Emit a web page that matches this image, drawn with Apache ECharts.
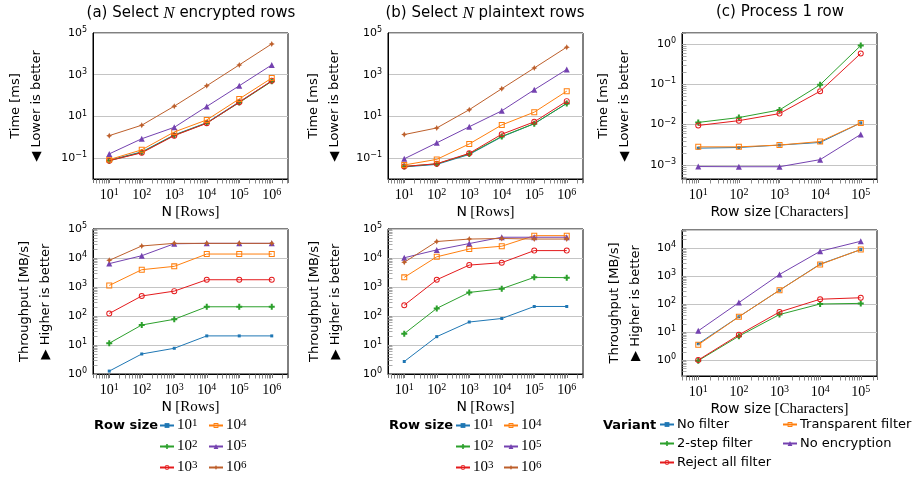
<!DOCTYPE html>
<html>
<head>
<meta charset="utf-8">
<script src="https://cdn.jsdelivr.net/npm/echarts@6/dist/echarts.min.js"></script>
<style>html,body{margin:0;padding:0;background:#fff}#main{width:918px;height:483px}</style>
</head>
<body>
<div id="main"></div>
<script>
// x values
var rowsN = [10, 100, 1e3, 1e4, 1e5, 1e6];
var rowSizes = [10, 100, 1e3, 1e4, 1e5];
var sizeNames = ['10^1', '10^2', '10^3', '10^4', '10^5', '10^6'];
var variantNames = ['No filter', '2-step filter', 'Reject all filter', 'Transparent filter', 'No encryption'];

// (a) time [ms], one array per row size
var encTime = [
  [0.08, 0.2, 1.3, 5.0, 50, 500],
  [0.075, 0.19, 1.25, 4.8, 46, 480],
  [0.076, 0.18, 1.2, 4.7, 48, 510],
  [0.085, 0.25, 1.8, 6.8, 69, 690],
  [0.16, 0.85, 3.0, 30, 295, 2950],
  [1.2, 3.8, 31, 295, 2950, 30000]
];
// (b) time [ms]
var plainTime = [
  [0.038, 0.05, 0.15, 1.05, 4.5, 42],
  [0.04, 0.053, 0.16, 1.1, 4.5, 42],
  [0.04, 0.054, 0.17, 1.4, 5.5, 54],
  [0.047, 0.087, 0.48, 3.9, 16, 163],
  [0.093, 0.54, 3.2, 18.5, 190, 1800],
  [1.35, 2.8, 21, 213, 2100, 21000]
];
// (a) throughput [MB/s]
var encTput = [
  [1.26, 4.9, 7.7, 20.6, 20.6, 20.6],
  [11.5, 49, 77, 208, 208, 208],
  [122, 490, 720, 1780, 1780, 1780],
  [1130, 3950, 5150, 13700, 13700, 13700],
  [6400, 12000, 31000, 32000, 32000, 32000],
  [8300, 26000, 32000, 32000, 32000, 32000]
];
// (b) throughput [MB/s]
var plainTput = [
  [2.7, 19.4, 62, 82, 213, 213],
  [24.5, 183, 650, 870, 2150, 2100],
  [236, 1780, 5700, 6900, 18000, 18000],
  [2150, 11000, 20500, 25500, 59000, 59000],
  [10200, 19000, 31500, 52000, 52000, 52000],
  [7100, 37000, 45000, 47000, 45000, 45000]
];
// (c) time [ms], one array per variant
var rowTime = [
  [0.0026, 0.0027, 0.0031, 0.0036, 0.011],
  [0.0113, 0.0149, 0.023, 0.097, 0.91],
  [0.0095, 0.0125, 0.0187, 0.067, 0.58],
  [0.0028, 0.0028, 0.0031, 0.0038, 0.011],
  [0.00091, 0.0009, 0.0009, 0.00135, 0.0057]
];
// (c) throughput [MB/s]
var rowTput = [
  [3.8, 35, 310, 2650, 8700],
  [0.95, 7.1, 42, 100, 105],
  [1.0, 7.9, 52, 148, 167],
  [3.5, 35, 310, 2570, 8800],
  [11, 112, 1130, 7600, 17300]
];

var SANS = 'DejaVu Sans', SERIF = 'Liberation Serif';
var colors = ['#1f77b4', '#2ca02c', '#e41a1c', '#ff7f0e', '#7442b0', '#bd5f2b'];
// open marks are drawn as thin rings so the outline stays 1px
var symbols = [
  ['rect', 3],
  ['path://M2,0h2v2h2v2h-2v2h-2v-2h-2v-2h2z', 6],
  ['path://M5,0A5,5 0 1,1 4.99,0ZM5,1.6A3.4,3.4 0 1,0 5.01,1.6Z', 6],
  ['path://M0,0H10V10H0ZM1.7,1.7V8.3H8.3V1.7Z', 6],
  ['triangle', 6],
  ['path://M3,0L4,2L6,3L4,4L3,6L2,4L0,3L2,2Z', 6]
];

// axis ranges as exponents [lo, hi]
var xRange = [[0.5, 6.5], [0.5, 6.5], [0.6, 5.4], [0.5, 6.5], [0.5, 6.5], [0.6, 5.4]];
var yRange = [[-2, 5], [-2, 5], [-3.35, 0.27], [0, 5], [0, 5], [-0.57, 4.64]];

var grids = [
  {left: 93, top: 33, width: 195, height: 146},
  {left: 388, top: 33, width: 195, height: 146},
  {left: 682, top: 33, width: 195, height: 146},
  {left: 93, top: 229, width: 195, height: 145},
  {left: 388, top: 229, width: 195, height: 145},
  {left: 682, top: 230, width: 195, height: 146}
];
grids.forEach(function (g) { g.show = true; g.borderColor = '#000'; g.borderWidth = 1; });

function exp10(v) {
  var e = Math.log10(v), r = Math.round(e);
  return Math.abs(e - r) > 1e-6 ? null : r;
}
function supText(r) { return (r < 0 ? '\u2212' : '') + Math.abs(r); }

function xAxis(gi, name) {
  return {
    type: 'log', gridIndex: gi, min: Math.pow(10, xRange[gi][0]), max: Math.pow(10, xRange[gi][1]),
    axisLine: {show: true, lineStyle: {color: '#000'}},
    axisTick: {show: true, length: 4, lineStyle: {color: '#777'}},
    splitLine: {show: false},
    axisLabel: {
      margin: 8,
      formatter: function (v) { var r = exp10(v); return r === null ? '' : '{b|10}{s|' + supText(r) + '}'; },
      rich: {
        b: {fontFamily: SERIF, fontSize: 14, color: '#000', lineHeight: 16},
        s: {fontFamily: SERIF, fontSize: 10, color: '#000', verticalAlign: 'top', lineHeight: 10}
      }
    },
    name: name, nameLocation: 'middle', nameGap: 26,
    nameTextStyle: {
      color: '#000',
      rich: {
        s: {fontFamily: SANS, fontSize: 14, color: '#000'},
        r: {fontFamily: SERIF, fontSize: 15, color: '#000'}
      }
    }
  };
}

function yAxis(gi, name, gap, oddOnly, minor) {
  return {
    type: 'log', gridIndex: gi, min: Math.pow(10, yRange[gi][0]), max: Math.pow(10, yRange[gi][1]),
    axisLine: {show: true, lineStyle: {color: '#000'}},
    axisTick: {show: minor, inside: true, length: 4, lineStyle: {color: '#999'}},
    splitLine: {show: true, lineStyle: {color: oddOnly ? ['rgba(0,0,0,0)', '#c4c4c4'] : '#c4c4c4', width: 1}},
    axisLabel: {
      margin: 6,
      formatter: function (v) {
        var r = exp10(v);
        if (r === null || (oddOnly && Math.abs(r) % 2 !== 1)) return '';
        return '{b|10}{s|' + supText(r) + '}';
      },
      rich: {
        b: {fontFamily: SANS, fontSize: 11, color: '#000', lineHeight: 14},
        s: {fontFamily: SANS, fontSize: 8, color: '#000', verticalAlign: 'top', lineHeight: 8}
      }
    },
    name: name, nameLocation: 'middle', nameGap: gap, nameRotate: 90,
    nameTextStyle: {fontFamily: SANS, fontSize: 13, color: '#000', lineHeight: 21}
  };
}

// the name is rotated, so these glyphs end up pointing down / up on screen
var timeName = 'Time [ms]\n\u25C0 Lower is better';
var tputName = 'Throughput [MB/s]\n\u25B6 Higher is better';
var nName = '{s|N} {r|[Rows]}';
var cName = '{s|Row size} {r|[Characters]}';

var xAxes = [
  xAxis(0, nName), xAxis(1, nName), xAxis(2, cName),
  xAxis(3, nName), xAxis(4, nName), xAxis(5, cName)
];
var yAxes = [
  yAxis(0, timeName, 46, true, false),
  yAxis(1, timeName, 43, true, false),
  yAxis(2, timeName, 47, false, true),
  yAxis(3, tputName, 37, false, true),
  yAxis(4, tputName, 42, false, true),
  yAxis(5, tputName, 36, false, true)
];

var series = [];
function addLines(gi, xs, table, names) {
  table.forEach(function (ys, k) {
    series.push({
      type: 'line', name: names[k], xAxisIndex: gi, yAxisIndex: gi,
      data: xs.map(function (x, i) { return [x, ys[i]]; }),
      symbol: symbols[k][0], symbolSize: symbols[k][1], showSymbol: true,
      lineStyle: {width: 1, color: colors[k]},
      itemStyle: {color: colors[k], borderWidth: 0},
      z: 2 + k
    });
  });
}
addLines(0, rowsN, encTime, sizeNames);
addLines(1, rowsN, plainTime, sizeNames);
addLines(2, rowSizes, rowTime, variantNames);
addLines(3, rowsN, encTput, sizeNames);
addLines(4, rowsN, plainTput, sizeNames);
addLines(5, rowSizes, rowTput, variantNames);

// logarithmic minor ticks (2..9 per decade) drawn through the axes' own scales
function minorValues(lo, hi) {
  var out = [];
  for (var e = Math.floor(lo); e <= Math.ceil(hi); e++) {
    for (var k = 2; k <= 9; k++) {
      var v = k * Math.pow(10, e), l = Math.log10(v);
      if (l > lo && l < hi) out.push(v);
    }
  }
  return out;
}
function addMinorTicks(gi, onY) {
  var lo = Math.pow(10, xRange[gi][0]), bottom = Math.pow(10, yRange[gi][0]);
  var vals = onY ? minorValues(yRange[gi][0], yRange[gi][1]) : minorValues(xRange[gi][0], xRange[gi][1]);
  series.push({
    type: 'custom', xAxisIndex: gi, yAxisIndex: gi, silent: true, clip: false, z: 1,
    data: vals.map(function (v) { return onY ? [lo, v] : [v, bottom]; }),
    renderItem: function (params, api) {
      var p = api.coord([api.value(0), api.value(1)]);
      var x = Math.round(p[0]) + 0.5, y = Math.round(p[1]) + 0.5;
      return {
        type: 'line',
        shape: onY ? {x1: x, y1: y, x2: x + 4, y2: y} : {x1: x, y1: y, x2: x, y2: y + 4},
        style: {stroke: onY ? '#aaa' : '#888', lineWidth: 1}
      };
    }
  });
}
[0, 1, 2, 3, 4, 5].forEach(function (gi) { addMinorTicks(gi, false); });
[2, 3, 4, 5].forEach(function (gi) { addMinorTicks(gi, true); });

function legend(left, data, serifText) {
  return {
    orient: 'vertical', left: left, top: 418, height: 70, padding: 0,
    itemWidth: 14, itemHeight: 6, itemGap: 6,
    data: data, selectedMode: false,
    formatter: function (n) { return serifText ? '{b|10}{s|' + n.slice(3) + '}' : '{t|' + n + '}'; },
    textStyle: {
      color: '#000', padding: [0, 0, 0, -2],
      rich: {
        b: {fontFamily: SERIF, fontSize: 15, color: '#000', lineHeight: 15},
        s: {fontFamily: SERIF, fontSize: 11, color: '#000', verticalAlign: 'top', lineHeight: 9},
        t: {fontFamily: SANS, fontSize: 13, color: '#000', lineHeight: 15}
      }
    }
  };
}

function title(text, left, top, extra) {
  return {
    text: text, left: left, top: top, padding: 0, textAlign: extra && extra.align || 'center',
    textStyle: {
      fontFamily: SANS, fontSize: extra && extra.size || 15,
      fontWeight: extra && extra.weight || 'normal', color: '#000',
      rich: {i: {fontFamily: SERIF, fontStyle: 'italic', fontSize: 17, color: '#000'}}
    }
  };
}

var option = {
  backgroundColor: '#fff',
  animation: false,
  title: [
    title('(a) Select {i|N} encrypted rows', 191, 5),
    title('(b) Select {i|N} plaintext rows', 485, 5),
    title('(c) Process 1 row', 780, 5),
    title('Row size', 94, 419, {align: 'left', size: 13, weight: 'bold'}),
    title('Row size', 389, 419, {align: 'left', size: 13, weight: 'bold'}),
    title('Variant', 603, 419, {align: 'left', size: 13, weight: 'bold'})
  ],
  legend: [
    legend(159, sizeNames.slice(0, 3), true),
    legend(208, sizeNames.slice(3), true),
    legend(455, sizeNames.slice(0, 3), true),
    legend(503, sizeNames.slice(3), true),
    legend(659, variantNames.slice(0, 3), false),
    legend(782, variantNames.slice(3), false)
  ],
  grid: grids,
  xAxis: xAxes,
  yAxis: yAxes,
  series: series
};

var myChart = echarts.init(document.getElementById('main'));
myChart.setOption(option);
</script>
</body>
</html>
